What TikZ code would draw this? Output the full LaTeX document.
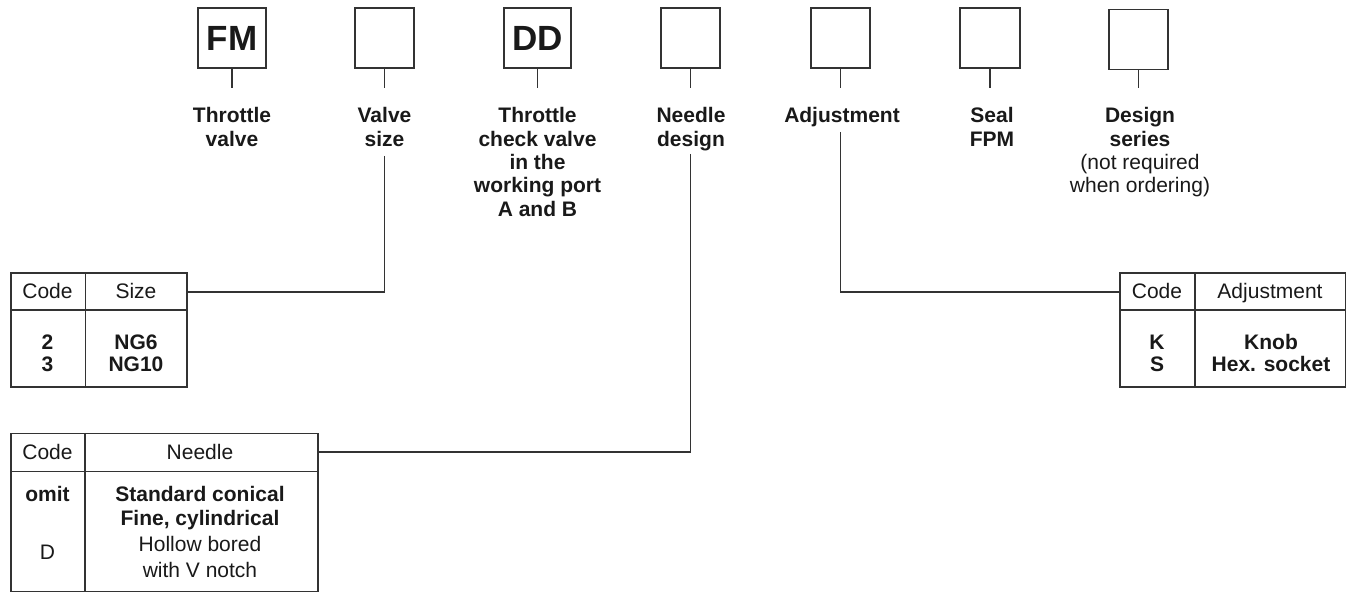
\documentclass[tikz,border=0pt]{standalone}
\usepackage{fontspec}
\setmainfont{Liberation Sans}
\begin{document}
\begin{tikzpicture}[x=0.5pt,y=-0.5pt]
\tikzset{
 ln/.style={line width=0.75pt, draw=black!80},
 topbox/.style={draw=black!80, line width=0.75pt, inner sep=0, minimum height=30pt, font=\fontsize{17.5}{18}\selectfont\bfseries, text=black!90},
 lbl/.style={inner sep=0, align=center, anchor=north, font=\fontsize{10.5}{11.7}\selectfont\bfseries, text=black!90},
 cell/.style={inner sep=0, anchor=base, font=\fontsize{10.5}{11}\selectfont, text=black!90},
 cellb/.style={cell, font=\fontsize{10.5}{11}\selectfont\bfseries},
 tbl/.style={ln, inner sep=0, anchor=north west}
}
\useasboundingbox (0,0) rectangle (1346,593);

% top code boxes
\node[topbox, minimum width=34pt]   (b1) at (232,38) {FM};
\node[topbox, minimum width=29.5pt] (b2) at (384.5,38) {};
\node[topbox, minimum width=33.5pt] (b3) at (537.5,38) {DD};
\node[topbox, minimum width=29.5pt] (b4) at (690.5,38) {};
\node[topbox, minimum width=29.5pt] (b5) at (840.5,38) {};
\node[topbox, minimum width=30pt]   (b6) at (990,38) {};
\node[topbox, minimum width=29.5pt] (b7) at (1138.5,39.5) {};

% stems
\coordinate (s1) at (232,88);
\coordinate (s2) at (384.5,88);
\coordinate (s3) at (537.5,88);
\coordinate (s4) at (690.5,88);
\coordinate (s5) at (840.5,88);
\coordinate (s6) at (990,88);
\coordinate (s7) at (1138.5,88);
\foreach \i in {1,...,7} { \draw[ln] (b\i.south) -- (s\i); }

% labels
\node[lbl] (l1) at (232,106) {\strut Throttle\\valve};
\node[lbl] (l2) at (384.5,106) {\strut Valve\\size};
\node[lbl] (l3) at (537.5,106) {\strut Throttle\\check valve\\in the\\working port\\A and B};
\node[lbl] (l4) at (691,106) {\strut Needle\\design};
\node[lbl] (l5) at (842,106) {\strut Adjustment};
\node[lbl] (l6) at (992,106) {\strut Seal\\FPM};
\node[lbl] (l7) at (1140,106) {\strut Design\\series\\{\mdseries (not required}\\{\mdseries when ordering)}};

% tables
\node[tbl, draw, minimum width=88pt, minimum height=57pt] (tsize) at (10,272.5) {};
\draw[ln] (10,310) -- (186,310);
\draw[ln] (85.5,272.5) -- (85.5,386.5);
\node[cell]  (tsc) at (47.5,299) {Code};
\node[cell]  (tss) at (136,299) {Size};
\node[cellb] (ts2) at (47.5,350) {2};
\node[cellb] (tsn6) at (136,350) {NG6};
\node[cellb] (ts3) at (47.5,372) {3};
\node[cellb] (tsn10) at (136,372) {NG10};

\node[tbl, draw, minimum width=153.5pt, minimum height=79pt] (tneedle) at (10,433) {};
\draw[ln] (10,471.5) -- (317,471.5);
\draw[ln] (85,433) -- (85,591);
\node[cell]  (tnc) at (47.5,459.5) {Code};
\node[cell]  (tnn) at (200,459.5) {Needle};
\node[cellb] (tno) at (47.5,501.5) {omit};
\node[cellb] (tnsc) at (200,501.5) {Standard conical};
\node[cellb] (tnfc) at (200,526) {Fine, cylindrical};
\node[cell]  (tnd) at (47.5,559.5) {D};
\node[cell]  (tnhb) at (200,551.5) {Hollow bored};
\node[cell]  (tnwv) at (200,577.5) {with V notch};

\node[tbl, draw, minimum width=113pt, minimum height=57pt] (tadj) at (1119,272.5) {};
\draw[ln] (1119,310) -- (1345,310);
\draw[ln] (1195,272.5) -- (1195,386.5);
\node[cell]  (tac) at (1157,299) {Code};
\node[cell]  (taa) at (1270,299) {Adjustment};
\node[cellb] (tak) at (1157,350) {K};
\node[cellb] (takn) at (1271,350) {Knob};
\node[cellb] (tas) at (1157,372) {S};
\node[cellb] (tahs) at (1271,372) {Hex. socket};

% leaders
\coordinate (v2) at (384.5,156);
\coordinate (tsH) at (186,292);
\draw[ln] (v2) |- (tsH);
\coordinate (v4) at (690.5,154);
\coordinate (tnH) at (317,452);
\draw[ln] (v4) |- (tnH);
\coordinate (v5) at (840.5,132);
\coordinate (taH) at (1119,292);
\draw[ln] (v5) |- (taH);
\end{tikzpicture}
\end{document}
